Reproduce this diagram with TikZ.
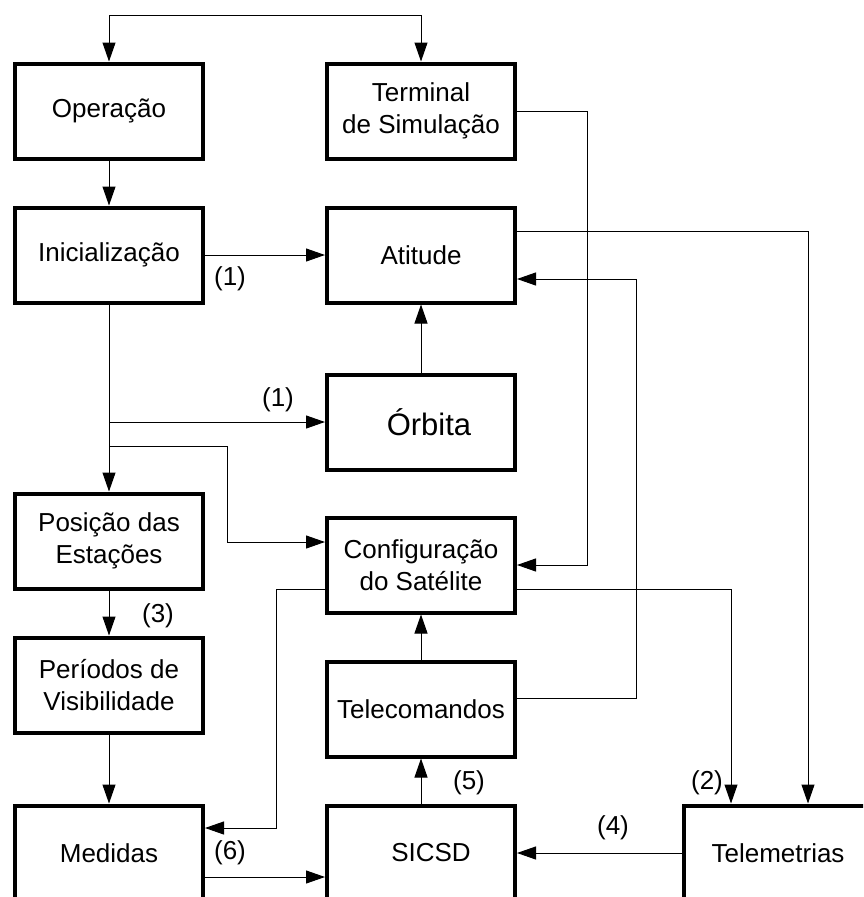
\documentclass[tikz,border=0pt]{standalone}
\usepackage{fontspec}
\setmainfont{Liberation Sans}
\usetikzlibrary{arrows.meta}

\tikzset{
  bloco/.style={draw, line width=4pt, minimum width=188pt, minimum height=95pt,
    align=center, inner sep=2pt, font=\fontsize{26}{32}\selectfont},
  seta/.style={line width=1pt, -{Triangle[length=19pt,width=13pt]}},
  rotulo/.style={inner sep=0pt, font=\fontsize{26}{32}\selectfont}
}

\begin{document}
\begin{tikzpicture}[x=1pt,y=-1pt]
  \useasboundingbox (0,0) rectangle (863,897);
  \clip (0,0) rectangle (863,897);

  \node[bloco] (op) at (109,111) {Operação};
  \node[bloco] (term) at (421,111) {Terminal\\de Simulação};
  \node[bloco] (inic) at (109,255) {Inicialização};
  \node[bloco] (atit) at (421,255) {Atitude};
  \node[bloco, font=\fontsize{31}{36}\selectfont] (orb) at (421,422) {\hspace{16pt}Órbita};
  \node[bloco] (pos) at (109,541) {Posição das\\Estações};
  \node[bloco] (cfg) at (421,565) {Configuração\\do Satélite};
  \node[bloco] (per) at (109,685) {Períodos de\\Visibilidade};
  \node[bloco] (tc) at (421,709) {Telecomandos};
  \node[bloco] (med) at (109,853) {Medidas};
  \node[bloco] (sic) at (421,853) {\hspace{20pt}SICSD};
  \node[bloco] (tel) at (778,853) {Telemetrias};

  % ligacoes
  \coordinate (topo) at (265,15);
  \draw[seta] (topo) -| (op.north);
  \draw[seta] (topo) -| (term.north);
  \draw[seta] (op) -- (inic);
  \draw[seta] (inic) -- (atit);
  \draw[seta] (orb) -- (atit);
  \draw[seta] (inic) -- (pos);
  \draw[seta] (inic.south |- orb.west) -- (orb.west);
  \draw[seta] (inic.south |- 0,446) -- ++(118,0) |- ([yshift=23pt]cfg.west);
  \draw[seta] (term.east) -- ++(70,0) |- (cfg.east);
  \draw[seta] ([yshift=24pt]atit.east) -| ([xshift=30pt]tel.north);
  \draw[seta] ([yshift=11pt]tc.east) -- ++(119,0) |- ([yshift=-24pt]atit.east);
  \draw[seta] ([yshift=-24pt]cfg.west) -- ++(-49,0) |- ([yshift=25pt]med.east);
  \draw[seta] ([yshift=-24pt]cfg.east) -| ([xshift=-47pt]tel.north);
  \draw[seta] (tc) -- (cfg);
  \draw[seta] (sic) -- (tc);
  \draw[seta] (tel) -- (sic);
  \draw[seta] ([yshift=-24pt]med.east) -- ([yshift=-24pt]sic.west);
  \draw[seta] (pos) -- (per);
  \draw[seta] (per) -- (med);

  \node[rotulo] (n1a) at (230,279) {(1)};
  \node[rotulo] (n1b) at (278,400) {(1)};
  \node[rotulo] (n3) at (158,616) {(3)};
  \node[rotulo] (n5) at (469,783) {(5)};
  \node[rotulo] (n2) at (707,783) {(2)};
  \node[rotulo] (n4) at (613,828) {(4)};
  \node[rotulo] (n6) at (230,853) {(6)};
\end{tikzpicture}
\end{document}
